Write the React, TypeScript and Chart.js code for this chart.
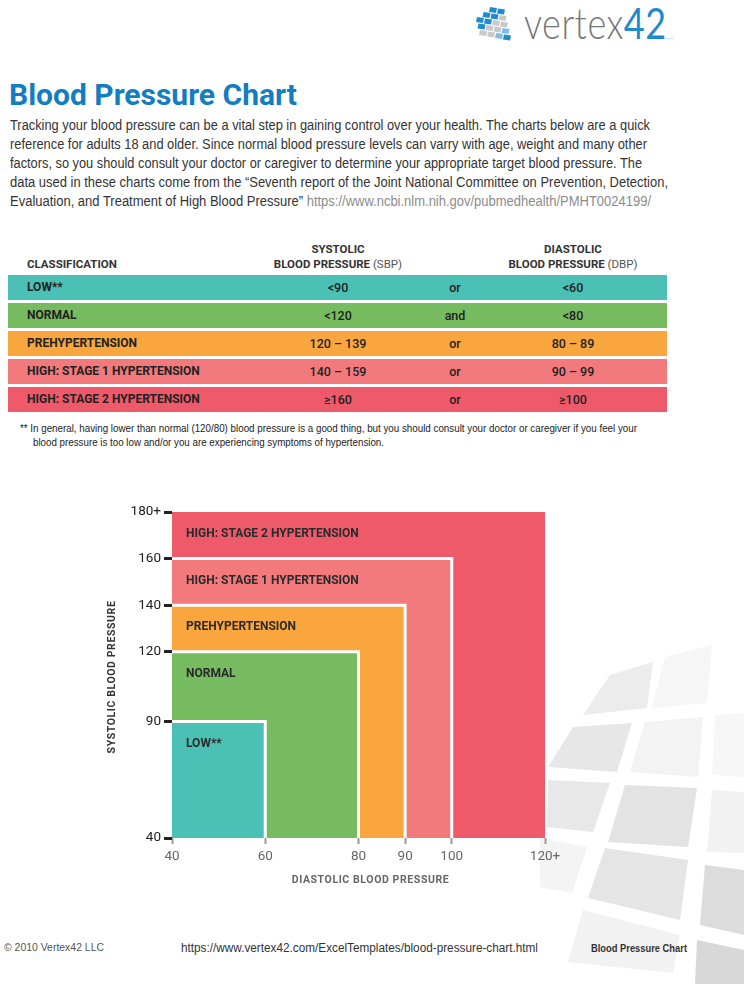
import React, { useEffect, useLayoutEffect, useRef } from 'react';
import { Chart, registerables } from 'chart.js';

Chart.register(...registerables);

// ---- data ----
const categories = ['LOW**', 'NORMAL', 'PREHYPERTENSION', 'HIGH: STAGE 1 HYPERTENSION', 'HIGH: STAGE 2 HYPERTENSION'];
const systolicText = ['<90', '<120', '120 – 139', '140 – 159', '≥160'];
const joinText = ['or', 'and', 'or', 'or', 'or'];
const diastolicText = ['<60', '<80', '80 – 89', '90 – 99', '≥100'];
const systolicUpper = [90, 120, 140, 160, 180];
const diastolicUpper = [60, 80, 90, 100, 120];
const xTickValues = [40, 60, 80, 90, 100, 120];
const xTickLabels = ['40', '60', '80', '90', '100', '120+'];
const yTickValues = [40, 90, 120, 140, 160, 180];
const yTickLabels = ['40', '90', '120', '140', '160', '180+'];
const xTitle = 'DIASTOLIC BLOOD PRESSURE';
const yTitle = 'SYSTOLIC BLOOD PRESSURE';
const colors = ['#4bc0b5', '#77bb61', '#f9a63e', '#f27a7d', '#ef5a6b'];

const introLines = [
  'Tracking your blood pressure can be a vital step in gaining control over your health. The charts below are a quick',
  'reference for adults 18 and older. Since normal blood pressure levels can varry with age, weight and many other',
  'factors, so you should consult your doctor or caregiver to determine your appropriate target blood pressure. The',
  'data used in these charts come from the \u201cSeventh report of the Joint National Committee on Prevention, Detection,',
];
const introLast = 'Evaluation, and Treatment of High Blood Pressure\u201d ';
const introUrl = 'https://www.ncbi.nlm.nih.gov/pubmedhealth/PMHT0024199/';
const introWidths = [640, 637, 632, 658, 641];

// background decoration (page ornament, not chart data)
const decoShapes: [string, string][] = [
  ['610,675 653,662 647,708 583,715', '#ececec'],
  ['665,657 712,645 707,703 652,708', '#f6f6f6'],
  ['573,727 632,723 617,772 548,767', '#e7e7e7'],
  ['645,722 703,717 698,777 630,772', '#f3f3f3'],
  ['715,715 744,713 744,777 712,775', '#f7f7f7'],
  ['548,780 610,783 593,832 547,827', '#e8e8e8'],
  ['625,785 697,788 688,847 608,842', '#e3e3e3'],
  ['712,790 744,792 744,853 707,852', '#f2f2f2'],
  ['540,838 587,847 572,893 540,887', '#f4f4f4'],
  ['605,848 688,860 680,920 588,898', '#e5e5e5'],
  ['705,865 744,870 744,935 700,925', '#dcdcdc'],
  ['583,910 680,935 673,973 568,962', '#f2f2f2'],
  ['697,940 744,950 744,984 695,984', '#d8d8d8'],
];

const arial = "'Liberation Sans', Arial, sans-serif";
const bold = "Roboto, 'Noto Sans', sans-serif";

function FitLine({ width, style, children }: { width: number; style?: React.CSSProperties; children: React.ReactNode }) {
  const ref = useRef<HTMLSpanElement | null>(null);
  useLayoutEffect(() => {
    const el = ref.current;
    if (!el) return;
    el.style.transform = 'none';
    const w = el.getBoundingClientRect().width;
    if (w > 0) el.style.transform = `scaleX(${width / w})`;
  }, [width]);
  return (
    <span ref={ref} style={{ display: 'inline-block', whiteSpace: 'nowrap', transformOrigin: 'left top', ...style }}>
      {children}
    </span>
  );
}

const regionLabels = {
  id: 'regionLabels',
  afterDatasetsDraw(chart: any) {
    const { ctx, scales, chartArea } = chart;
    const x = scales.x;
    const y = scales.y;
    ctx.save();
    ctx.font = 'bold 12px Roboto';
    ctx.fillStyle = '#2a2a2a';
    ctx.textBaseline = 'middle';
    ctx.textAlign = 'left';
    categories.forEach((c, i) => {
      ctx.fillText(c, x.getPixelForValue(xTickValues[0]) + 14, y.getPixelForValue(systolicUpper[i]) + 22);
    });
    // axis titles with letter spacing
    ctx.font = 'bold 10.5px Roboto';
    (ctx as any).letterSpacing = '0.6px';
    ctx.textAlign = 'center';
    ctx.fillStyle = '#666666';
    ctx.fillText(xTitle, (chartArea.left + chartArea.right) / 2 + 12, chartArea.bottom + 42);
    ctx.fillStyle = '#333333';
    ctx.translate(chartArea.left - 60, (chartArea.top + chartArea.bottom) / 2 + 2);
    ctx.rotate(-Math.PI / 2);
    ctx.fillText(yTitle, 0, 0);
    (ctx as any).letterSpacing = '0px';
    ctx.restore();
  },
};

function BPChart() {
  const ref = useRef<HTMLCanvasElement | null>(null);
  useEffect(() => {
    if (!ref.current) return;
    const last = categories.length - 1;
    const datasets = categories.map((c, i) => ({
      label: c,
      data: [
        { x: xTickValues[0], y: systolicUpper[i] },
        { x: diastolicUpper[i], y: systolicUpper[i] },
        { x: diastolicUpper[i], y: yTickValues[0] },
      ],
      backgroundColor: colors[i],
      borderColor: i === last ? colors[i] : '#ffffff',
      borderWidth: i === last ? 0 : 3,
      fill: 'start',
      pointRadius: 0,
      tension: 0,
    }));
    const chart = new Chart(ref.current, {
      type: 'line',
      data: { datasets } as any,
      plugins: [regionLabels],
      options: {
        animation: false,
        responsive: false,
        maintainAspectRatio: false,
        layout: { padding: { top: 17, right: 25, left: 0, bottom: 0 } },
        plugins: { legend: { display: false }, tooltip: { enabled: false } },
        scales: {
          x: {
            type: 'linear',
            min: xTickValues[0],
            max: xTickValues[xTickValues.length - 1],
            afterBuildTicks: (s: any) => {
              s.ticks = xTickValues.map((v) => ({ value: v }));
            },
            afterFit: (s: any) => {
              s.height = 57;
            },
            ticks: {
              autoSkip: false,
              maxRotation: 0,
              padding: 5,
              color: '#666666',
              font: { family: 'Roboto', size: 13.5 },
              callback: (v: any) => xTickLabels[xTickValues.indexOf(Number(v))],
            },
            grid: { display: true, drawOnChartArea: false, drawTicks: true, tickLength: 6, tickWidth: 2, tickColor: '#9a9a9a' },
            border: { display: false },
            title: { display: false },
          },
          y: {
            type: 'linear',
            min: yTickValues[0],
            max: yTickValues[yTickValues.length - 1],
            afterBuildTicks: (s: any) => {
              s.ticks = yTickValues.map((v) => ({ value: v }));
            },
            afterFit: (s: any) => {
              s.width = 72;
            },
            ticks: {
              autoSkip: false,
              padding: 3,
              color: '#222222',
              font: { family: 'Roboto', size: 13.5 },
              callback: (v: any) => yTickLabels[yTickValues.indexOf(Number(v))],
            },
            grid: { display: true, drawOnChartArea: false, drawTicks: true, tickLength: 8, tickWidth: 3, tickColor: '#222222' },
            border: { display: false },
            title: { display: false },
          },
        },
      } as any,
    });
    return () => chart.destroy();
  }, []);
  return (
    <canvas
      ref={ref}
      width={470}
      height={400}
      style={{ position: 'absolute', left: 100, top: 495, width: 470, height: 400 }}
    />
  );
}

function Logo() {
  const cells: JSX.Element[] = [];
  const cols = ['#c9c9c9', '#7fbde6', '#1f8bcc', '#1f8bcc', '#c9c9c9'];
  for (let r = 0; r < 5; r++) {
    for (let c = 0; c < 4; c++) {
      if (r + c < 2) continue;
      const x0 = 6 + c * 8 + r * 1.5;
      const y0 = 4 + r * 6.5 + c * 1.5;
      const pts = `${x0},${y0} ${x0 + 7},${y0 + 1} ${x0 + 6},${y0 + 6} ${x0 - 1},${y0 + 5}`;
      cells.push(<polygon key={`${r}-${c}`} points={pts} fill={cols[(r + c) % 5]} />);
    }
  }
  return (
    <div style={{ position: 'absolute', left: 468, top: 0, width: 220, height: 44 }}>
      <svg width={44} height={44} style={{ position: 'absolute', left: 0, top: 0 }}>
        {cells}
      </svg>
      <div
        style={{
          position: 'absolute',
          left: 56,
          top: -4,
          fontFamily: "Lato, 'DejaVu Sans', sans-serif",
          fontWeight: 300,
          fontSize: 36,
          letterSpacing: 0.5,
          color: '#777777',
          transform: 'scaleY(1.2)',
          transformOrigin: 'top left',
          whiteSpace: 'nowrap',
        }}
      >
        vertex<span style={{ color: '#1e8acb', fontWeight: 400 }}>42</span>
        <span style={{ color: '#1e8acb', fontSize: 8 }}>...</span>
      </div>
    </div>
  );
}

export default function App() {
  const abs = (l: number, t: number): React.CSSProperties => ({ position: 'absolute', left: l, top: t, whiteSpace: 'nowrap' });
  const center = (cx: number, t: number): React.CSSProperties => ({
    position: 'absolute',
    left: cx,
    top: t,
    transform: 'translateX(-50%)',
    whiteSpace: 'nowrap',
  });
  return (
    <div style={{ position: 'absolute', left: 0, top: 0, width: 744, height: 984, background: '#ffffff', overflow: 'hidden' }}>
      <svg width={744} height={984} style={{ position: 'absolute', left: 0, top: 0 }}>
        {decoShapes.map(([p, c], i) => (
          <polygon key={i} points={p} fill={c} />
        ))}
      </svg>
      <Logo />
      <div style={{ ...abs(9, 77), fontFamily: bold, fontWeight: 700, fontSize: 30, color: '#137dc1', lineHeight: '36px' }}>
        Blood Pressure Chart
      </div>
      <div style={{ ...abs(10, 116), fontFamily: arial, fontSize: 14, lineHeight: '19px', color: '#333333' }}>
        {introLines.map((l, i) => (
          <div key={i} style={{ height: 19 }}>
            <FitLine width={introWidths[i]}>{l}</FitLine>
          </div>
        ))}
        <div style={{ height: 19 }}>
          <FitLine width={introWidths[4]}>
            {introLast}
            <span style={{ color: '#8c8c8c' }}>{introUrl}</span>
          </FitLine>
        </div>
      </div>

      {/* table header */}
      <div style={{ fontFamily: bold, fontSize: 11.5, color: '#333333', lineHeight: '14px' }}>
        <div style={{ ...abs(27, 257), fontWeight: 700 }}>CLASSIFICATION</div>
        <div style={{ ...center(338, 242), fontWeight: 700 }}>SYSTOLIC</div>
        <div style={{ ...center(338, 257) }}>
          <b>BLOOD PRESSURE</b> <span style={{ color: '#555' }}>(SBP)</span>
        </div>
        <div style={{ ...center(573, 242), fontWeight: 700 }}>DIASTOLIC</div>
        <div style={{ ...center(573, 257) }}>
          <b>BLOOD PRESSURE</b> <span style={{ color: '#555' }}>(DBP)</span>
        </div>
      </div>
      {categories.map((c, i) => (
        <div
          key={c}
          style={{
            position: 'absolute',
            left: 8,
            top: 275 + i * 28,
            width: 659,
            height: 25,
            background: colors[i],
            fontFamily: bold,
            fontSize: 12.5,
            fontWeight: 500,
            lineHeight: '25px',
            color: '#222222',
          }}
        >
          <div style={{ ...abs(19, 0), fontWeight: 700, fontSize: 12 }}>{c}</div>
          <div style={center(330, 0)}>{systolicText[i]}</div>
          <div style={center(447, 0)}>{joinText[i]}</div>
          <div style={center(565, 0)}>{diastolicText[i]}</div>
        </div>
      ))}
      <div style={{ ...abs(20, 421), fontFamily: arial, fontSize: 10.5, lineHeight: '14px', color: '#222222' }}>
        <FitLine width={617}>
          ** In general, having lower than normal (120/80) blood pressure is a good thing, but you should consult your doctor or caregiver if you feel your
        </FitLine>
      </div>
      <div style={{ ...abs(33, 435), fontFamily: arial, fontSize: 10.5, lineHeight: '14px', color: '#222222' }}>
        <FitLine width={351}>blood pressure is too low and/or you are experiencing symptoms of hypertension.</FitLine>
      </div>

      <BPChart />

      <div style={{ ...abs(4, 940), fontFamily: arial, fontSize: 11, lineHeight: '14px', color: '#555555' }}>
        <FitLine width={100}>© 2010 Vertex42 LLC</FitLine>
      </div>
      <div style={{ ...abs(181, 940), fontFamily: arial, fontSize: 12.5, lineHeight: '16px', color: '#333333' }}>
        <FitLine width={357}>https://www.vertex42.com/ExcelTemplates/blood-pressure-chart.html</FitLine>
      </div>
      <div style={{ ...abs(591, 941), fontFamily: arial, fontSize: 10.5, fontWeight: 700, lineHeight: '14px', color: '#333333' }}>
        <FitLine width={96}>Blood Pressure Chart</FitLine>
      </div>
    </div>
  );
}
